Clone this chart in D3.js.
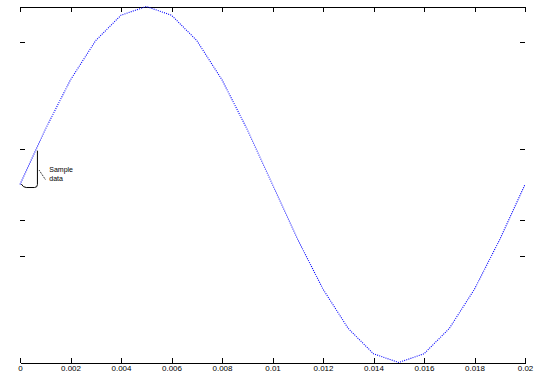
<!DOCTYPE html>
<html>
<head>
<meta charset="utf-8">
<script src="https://cdn.jsdelivr.net/npm/d3@7"></script>
<style>
  body { margin: 0; background: #fff; }
  svg { display: block; }
  .tick text { font-family: "Liberation Sans", Arial, sans-serif; font-size: 8px; fill: #000; }
</style>
</head>
<body>
<svg id="chart"></svg>
<script>
// sampled signal, one period at 1 ms steps
const time = [0, 0.001, 0.002, 0.003, 0.004, 0.005, 0.006, 0.007, 0.008, 0.009, 0.010,
              0.011, 0.012, 0.013, 0.014, 0.015, 0.016, 0.017, 0.018, 0.019, 0.020];
const signal = [0, 0.309, 0.588, 0.809, 0.951, 1, 0.951, 0.809, 0.588, 0.309, 0,
                -0.309, -0.588, -0.809, -0.951, -1, -0.951, -0.809, -0.588, -0.309, 0];
const xTicks = [0, 0.002, 0.004, 0.006, 0.008, 0.01, 0.012, 0.014, 0.016, 0.018, 0.02];
const xTickLabels = ['0', '0.002', '0.004', '0.006', '0.008', '0.01', '0.012', '0.014', '0.016', '0.018', '0.02'];
const yTicks = [0.8, 0.2, -0.2, -0.4];
const noteLines = ['Sample', 'data'];

const w = 547, h = 377;
const svg = d3.select('#chart').attr('width', w).attr('height', h);

const x = d3.scaleLinear().domain([0, 0.02]).range([20, 525]);
const y = d3.scaleLinear().domain([-1, 1]).range([362.5, 6.5]);

// axes: box top/bottom, inward ticks, no y labels
svg.append('g')
    .attr('transform', 'translate(0,' + y(-1) + ')')
    .call(d3.axisBottom(x).tickValues(xTicks).tickSize(-5).tickSizeOuter(0).tickPadding(3)
        .tickFormat((d, i) => xTickLabels[i]));

svg.append('g')
    .attr('transform', 'translate(0,' + y(1) + ')')
    .call(d3.axisTop(x).tickValues(xTicks).tickSize(-5).tickSizeOuter(0).tickFormat(''));

const left = svg.append('g')
    .attr('transform', 'translate(' + x(0) + ',0)')
    .call(d3.axisLeft(y).tickValues(yTicks).tickSize(-5).tickFormat(''));
left.select('.domain').remove();

const right = svg.append('g')
    .attr('transform', 'translate(' + x(0.02) + ',0)')
    .call(d3.axisRight(y).tickValues(yTicks).tickSize(-5).tickFormat(''));
right.select('.domain').remove();

svg.selectAll('.domain, .tick line').attr('stroke', '#000').attr('stroke-width', 1)
    .attr('shape-rendering', 'crispEdges');

// signal, dotted blue polyline
const lineFun = d3.line()
    .x((d, i) => x(time[i]))
    .y(d => y(d));

svg.append('path')
    .attr('d', lineFun(signal))
    .attr('fill', 'none')
    .attr('stroke', '#0000ff')
    .attr('stroke-width', 1.1)
    .attr('stroke-dasharray', '1,1.2');

// callout near the start
const cx0 = x(0.00005), cx1 = x(0.00069);
const cyTop = y(0.19), cyBot = y(-0.017);
const p = d3.path();
p.moveTo(cx1, cyTop);
p.lineTo(cx1, cyBot - 3);
p.quadraticCurveTo(cx1, cyBot, cx1 - 3, cyBot);
p.lineTo(cx0 + 5, cyBot);
p.quadraticCurveTo(cx0 + 2, cyBot, cx0, cyBot - 3.5);
svg.append('path')
    .attr('d', p.toString())
    .attr('fill', 'none')
    .attr('stroke', '#000')
    .attr('stroke-width', 1);

svg.append('line')
    .attr('x1', x(0.00076)).attr('y1', y(0.08))
    .attr('x2', x(0.00102)).attr('y2', y(0.025))
    .attr('stroke', '#000')
    .attr('stroke-dasharray', '1,1');

svg.selectAll('text.note')
    .data(noteLines)
    .enter()
    .append('text')
    .attr('class', 'note')
    .text(d => d)
    .attr('x', x(0.00116))
    .attr('y', (d, i) => y(0.068) + i * 8.5)
    .style('font-family', '"Liberation Sans", Arial, sans-serif')
    .style('font-size', '7px')
    .style('fill', '#000');
</script>
</body>
</html>
